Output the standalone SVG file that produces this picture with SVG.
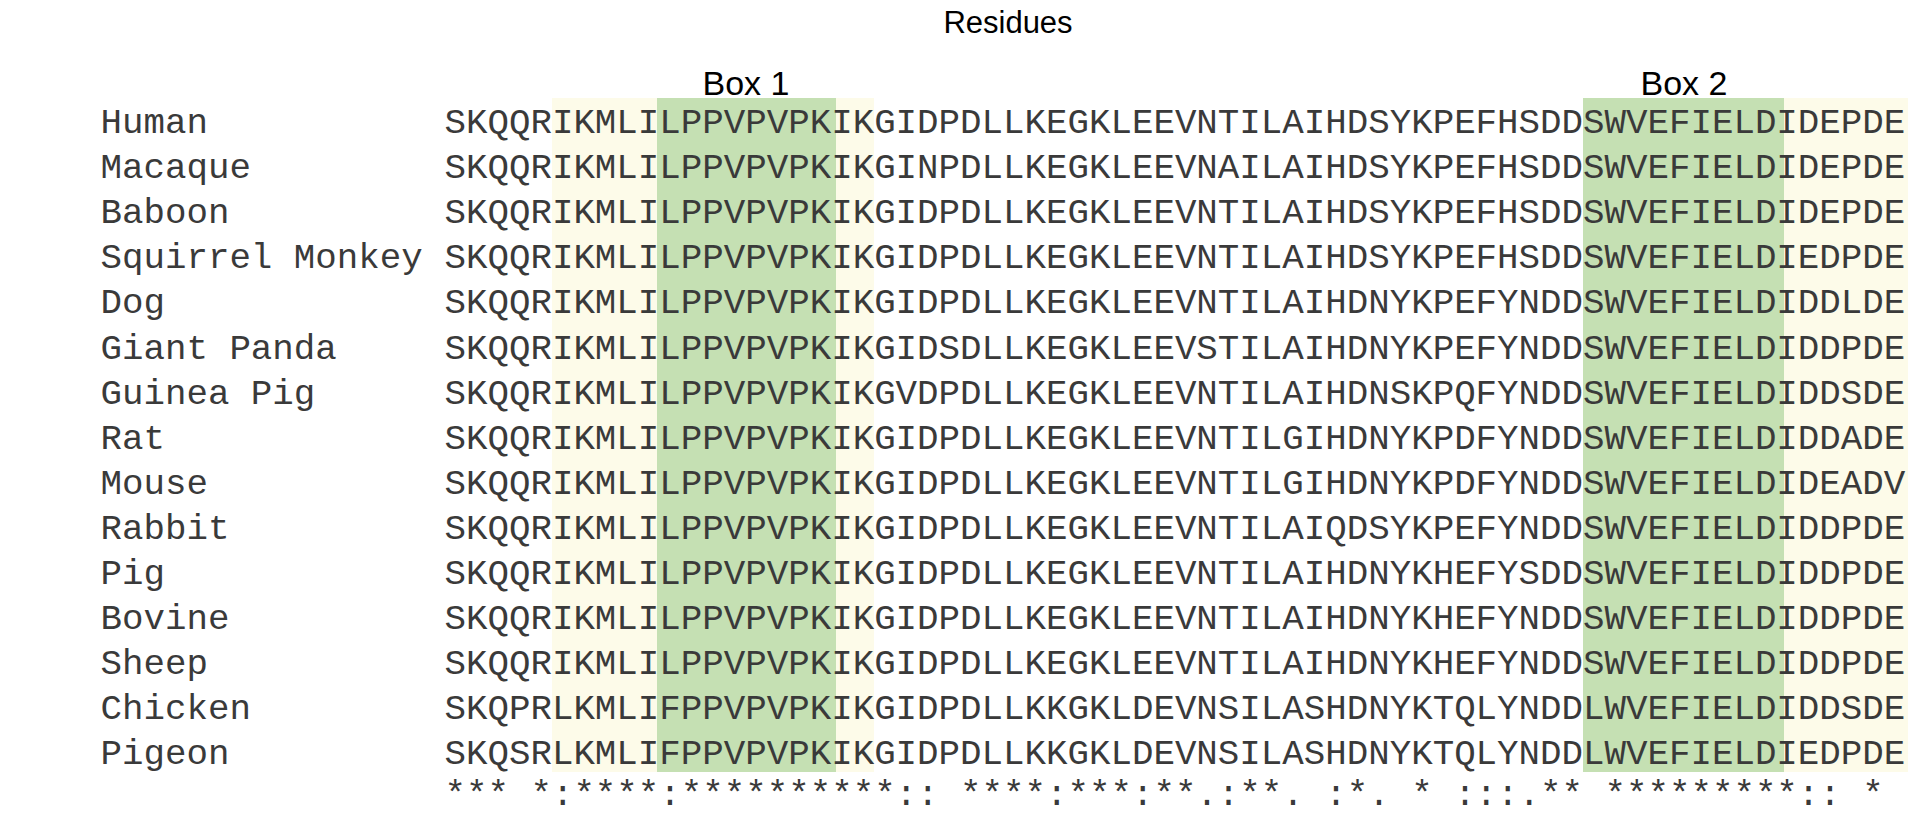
<svg xmlns="http://www.w3.org/2000/svg" width="1920" height="816" viewBox="0 0 1920 816">
<style>
.seq{font-family:"Liberation Mono","Courier New",monospace;font-size:35.8px;fill:#3a3a3a;white-space:pre}
.hdr{font-family:"Liberation Sans",Arial,sans-serif;fill:#000;text-anchor:middle}
.yel{fill:#fdfbe9}
.grn{fill:#c5e0b3}
</style>
<rect width="1920" height="816" fill="#fff"/>
<g id="highlights">
<rect class="yel" x="552" y="98" width="322" height="674"/>
<rect class="grn" x="657" y="98" width="179" height="674"/>
<rect class="grn" x="1583" y="98" width="201" height="674"/>
<rect class="yel" x="1784" y="98" width="124" height="674"/>
</g>
<g id="headers">
<text class="hdr" x="1008" y="33" font-size="31">Residues</text>
<text class="hdr" x="746" y="95" font-size="34">Box 1</text>
<text class="hdr" x="1684" y="95" font-size="34">Box 2</text>
</g>
<g id="connectors"/>
<g id="row-human"><text class="seq" x="100.5" y="133">Human</text><text class="seq" x="444.5" y="133">SKQQRIKMLILPPVPVPKIKGIDPDLLKEGKLEEVNTILAIHDSYKPEFHSDDSWVEFIELDIDEPDE</text></g>
<g id="row-macaque"><text class="seq" x="100.5" y="178.1">Macaque</text><text class="seq" x="444.5" y="178.1">SKQQRIKMLILPPVPVPKIKGINPDLLKEGKLEEVNAILAIHDSYKPEFHSDDSWVEFIELDIDEPDE</text></g>
<g id="row-baboon"><text class="seq" x="100.5" y="223.2">Baboon</text><text class="seq" x="444.5" y="223.2">SKQQRIKMLILPPVPVPKIKGIDPDLLKEGKLEEVNTILAIHDSYKPEFHSDDSWVEFIELDIDEPDE</text></g>
<g id="row-squirrel-monkey"><text class="seq" x="100.5" y="268.3">Squirrel Monkey</text><text class="seq" x="444.5" y="268.3">SKQQRIKMLILPPVPVPKIKGIDPDLLKEGKLEEVNTILAIHDSYKPEFHSDDSWVEFIELDIEDPDE</text></g>
<g id="row-dog"><text class="seq" x="100.5" y="313.4">Dog</text><text class="seq" x="444.5" y="313.4">SKQQRIKMLILPPVPVPKIKGIDPDLLKEGKLEEVNTILAIHDNYKPEFYNDDSWVEFIELDIDDLDE</text></g>
<g id="row-giant-panda"><text class="seq" x="100.5" y="358.5">Giant Panda</text><text class="seq" x="444.5" y="358.5">SKQQRIKMLILPPVPVPKIKGIDSDLLKEGKLEEVSTILAIHDNYKPEFYNDDSWVEFIELDIDDPDE</text></g>
<g id="row-guinea-pig"><text class="seq" x="100.5" y="403.6">Guinea Pig</text><text class="seq" x="444.5" y="403.6">SKQQRIKMLILPPVPVPKIKGVDPDLLKEGKLEEVNTILAIHDNSKPQFYNDDSWVEFIELDIDDSDE</text></g>
<g id="row-rat"><text class="seq" x="100.5" y="448.7">Rat</text><text class="seq" x="444.5" y="448.7">SKQQRIKMLILPPVPVPKIKGIDPDLLKEGKLEEVNTILGIHDNYKPDFYNDDSWVEFIELDIDDADE</text></g>
<g id="row-mouse"><text class="seq" x="100.5" y="493.8">Mouse</text><text class="seq" x="444.5" y="493.8">SKQQRIKMLILPPVPVPKIKGIDPDLLKEGKLEEVNTILGIHDNYKPDFYNDDSWVEFIELDIDEADV</text></g>
<g id="row-rabbit"><text class="seq" x="100.5" y="538.9">Rabbit</text><text class="seq" x="444.5" y="538.9">SKQQRIKMLILPPVPVPKIKGIDPDLLKEGKLEEVNTILAIQDSYKPEFYNDDSWVEFIELDIDDPDE</text></g>
<g id="row-pig"><text class="seq" x="100.5" y="584">Pig</text><text class="seq" x="444.5" y="584">SKQQRIKMLILPPVPVPKIKGIDPDLLKEGKLEEVNTILAIHDNYKHEFYSDDSWVEFIELDIDDPDE</text></g>
<g id="row-bovine"><text class="seq" x="100.5" y="629.1">Bovine</text><text class="seq" x="444.5" y="629.1">SKQQRIKMLILPPVPVPKIKGIDPDLLKEGKLEEVNTILAIHDNYKHEFYNDDSWVEFIELDIDDPDE</text></g>
<g id="row-sheep"><text class="seq" x="100.5" y="674.2">Sheep</text><text class="seq" x="444.5" y="674.2">SKQQRIKMLILPPVPVPKIKGIDPDLLKEGKLEEVNTILAIHDNYKHEFYNDDSWVEFIELDIDDPDE</text></g>
<g id="row-chicken"><text class="seq" x="100.5" y="719.3">Chicken</text><text class="seq" x="444.5" y="719.3">SKQPRLKMLIFPPVPVPKIKGIDPDLLKKGKLDEVNSILASHDNYKTQLYNDDLWVEFIELDIDDSDE</text></g>
<g id="row-pigeon"><text class="seq" x="100.5" y="764.4">Pigeon</text><text class="seq" x="444.5" y="764.4">SKQSRLKMLIFPPVPVPKIKGIDPDLLKKGKLDEVNSILASHDNYKTQLYNDDLWVEFIELDIEDPDE</text></g>
<g id="conservation"><text class="seq" x="444.5" y="805">*** *:****:**********:: ****:***:**.:**. :*. * :::.** *********:: *</text></g>
</svg>
